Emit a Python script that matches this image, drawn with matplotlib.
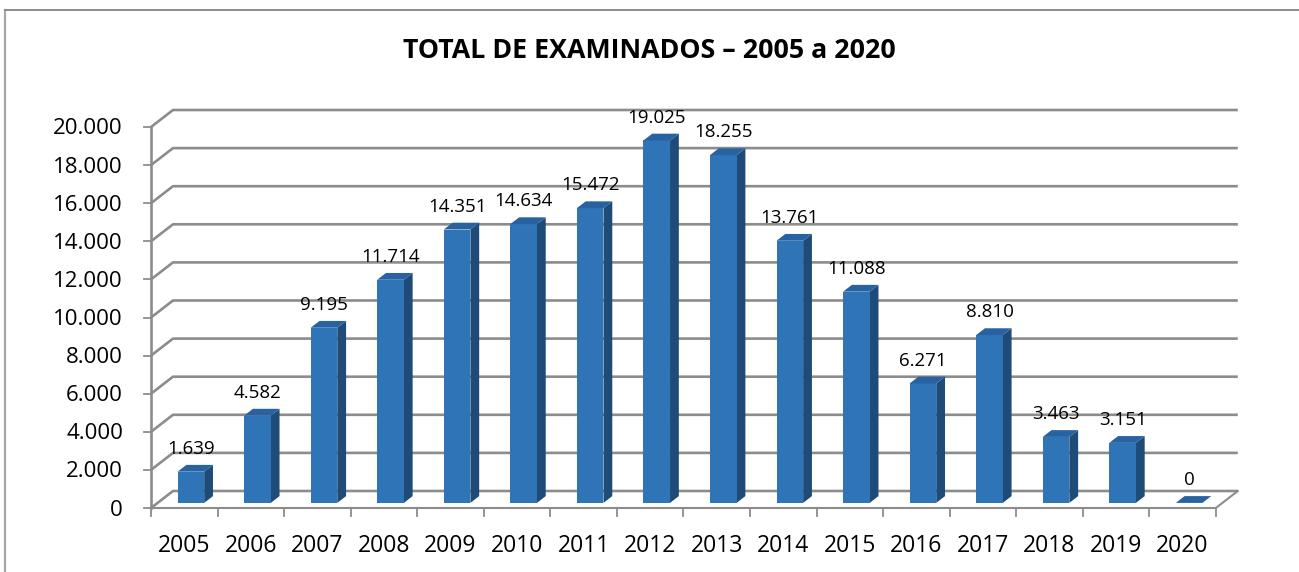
import matplotlib
matplotlib.use("Agg")
import matplotlib.pyplot as plt
from matplotlib.patches import Polygon
from matplotlib.lines import Line2D

years = ["2005", "2006", "2007", "2008", "2009", "2010", "2011", "2012",
         "2013", "2014", "2015", "2016", "2017", "2018", "2019", "2020"]
values = [1639, 4582, 9195, 11714, 14351, 14634, 15472, 19025,
          18255, 13761, 11088, 6271, 8810, 3463, 3151, 0]
labels = ["1.639", "4.582", "9.195", "11.714", "14.351", "14.634", "15.472", "19.025",
          "18.255", "13.761", "11.088", "6.271", "8.810", "3.463", "3.151", "0"]
yticks = list(range(0, 20001, 2000))
ytick_labels = ["0", "2.000", "4.000", "6.000", "8.000", "10.000", "12.000",
                "14.000", "16.000", "18.000", "20.000"]
title = "TOTAL DE EXAMINADOS \u2013 2005 a 2020"

FONT = ["Open Sans", "DejaVu Sans"]
W, H = 1299, 572
fig = plt.figure(figsize=(W / 100, H / 100), dpi=100)
ax = fig.add_axes([0, 0, 1, 1])
ax.set_axis_off()

# pixel geometry of plot area
x0_px, y0_px = 151.0, 508.0
cat_px = 66.55
val_px = (508.0 - 127.0) / 20000.0
ax.set_xlim(-x0_px / cat_px, (W - x0_px) / cat_px)
ax.set_ylim((y0_px - H) / val_px, y0_px / val_px)

n = len(years)
DX = 22.0 / cat_px          # depth offset in category units
DY = 17.0 / val_px          # depth offset in value units

grid_c = "#8c8c8c"
gl = 1.9
# gridlines (left diagonal + back wall horizontal)
for v in yticks:
    ax.add_line(Line2D([0, DX, n + DX], [v, v + DY, v + DY], color=grid_c, lw=gl,
                       solid_capstyle="butt", zorder=1))
# floor front and right edges
ax.add_line(Line2D([0, n, n + DX], [0, 0, DY], color=grid_c, lw=1.5, zorder=1))
# left axis
ax.add_line(Line2D([0, 0], [0, yticks[-1]], color=grid_c, lw=1.9, zorder=1))
# y ticks
for v in yticks:
    ax.add_line(Line2D([-7 / cat_px, 0], [v, v], color=grid_c, lw=1.3, zorder=1))
# category ticks
for i in range(n + 1):
    ax.add_line(Line2D([i, i], [0, -8 / val_px], color=grid_c, lw=1.3, zorder=1))

front_c = "#2f74b6"
side_c = "#1f4b78"
top_c = "#2862a0"
f0, f1 = 0.3, 0.7          # bar depth range (fraction of full depth)
bx0, bx1 = 0.3, 0.7        # bar width range within category

for i, v in enumerate(values):
    xl = i + bx0 + f0 * DX
    xr = i + bx1 + f0 * DX
    yb = f0 * DY
    yt = v + f0 * DY
    ddx = (f1 - f0) * DX
    ddy = (f1 - f0) * DY
    z = 2 + i * 0.01
    if v > 0:
        ax.add_patch(Polygon([(xr, yb), (xr + ddx, yb + ddy), (xr + ddx, yt + ddy), (xr, yt)],
                             closed=True, facecolor=side_c, edgecolor="none", zorder=z))
        ax.add_patch(Polygon([(xl, yb), (xr, yb), (xr, yt), (xl, yt)],
                             closed=True, facecolor=front_c, edgecolor="none", zorder=z))
    ax.add_patch(Polygon([(xl, yt), (xr, yt), (xr + ddx, yt + ddy), (xl + ddx, yt + ddy)],
                         closed=True, facecolor=top_c, edgecolor="none", zorder=z))
    # data label
    ax.annotate(labels[i], xy=((xl + xr) / 2, v + f1 * DY), xytext=(0, 11),
                textcoords="offset pixels", ha="center", va="baseline",
                fontsize=13.5, family=FONT, color="#000000", zorder=5)

# y tick labels
for v, lab in zip(yticks, ytick_labels):
    ax.annotate(lab, xy=(0, v), xytext=(-28, -7.5), textcoords="offset pixels",
                ha="right", va="baseline", fontsize=16, family=FONT, color="#000000")
# x tick labels
for i, y in enumerate(years):
    ax.annotate(y, xy=(i + 0.5, 0), xytext=(0, -43.5), textcoords="offset pixels",
                ha="center", va="baseline", fontsize=16.5, family=FONT, color="#000000")

fig.text(649.5 / W, 1 - 58.5 / H, title, ha="center", va="baseline",
         fontsize=19.3, fontweight="bold", family=FONT, color="#000000")

# chart border (left and top visible)
fig.add_artist(Line2D([5 / W, 5 / W], [0, 1 - 10 / H], color="#a6a6a6", lw=1.6,
                      transform=fig.transFigure))
fig.add_artist(Line2D([5 / W, 1], [1 - 10 / H, 1 - 10 / H], color="#8c8c8c", lw=1.4,
                      transform=fig.transFigure))

fig.savefig("out.png", dpi=100)
